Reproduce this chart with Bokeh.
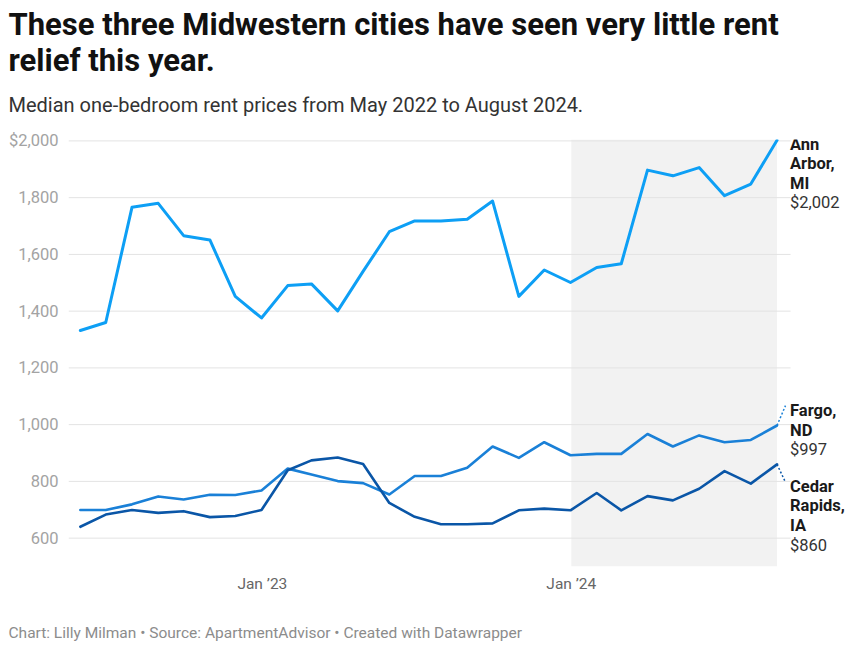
import pandas as pd
from bokeh.plotting import figure
from bokeh.layouts import column
from bokeh.models import Range1d, FixedTicker, Label, BoxAnnotation
from bokeh.embed import file_html
from bokeh.resources import INLINE

# ---------------- data ----------------
months = pd.period_range("2022-05", "2024-08", freq="M").to_timestamp(how="end").normalize()

ann_arbor = [1332, 1360, 1766, 1780, 1666, 1651, 1452, 1376, 1490, 1496, 1401, 1540,
             1680, 1718, 1718, 1724, 1788, 1452, 1545, 1501, 1554, 1567, 1897, 1877,
             1906, 1807, 1848, 2002]
fargo = [699, 699, 719, 747, 736, 753, 752, 768, 845, 824, 801, 794,
         754, 819, 819, 848, 923, 883, 938, 892, 897, 897, 967, 923,
         962, 938, 946, 997]
cedar_rapids = [640, 683, 699, 689, 695, 674, 678, 699, 839, 874, 884, 861,
                724, 675, 649, 649, 652, 698, 704, 698, 759, 698, 748, 733,
                774, 836, 792, 860]

series_names = [["Ann", "Arbor,", "MI"], ["Fargo,", "ND"], ["Cedar", "Rapids,", "IA"]]
series_values = [ann_arbor, fargo, cedar_rapids]
series_colors = ["#0d9ff5", "#1a80d7", "#0a56a7"]

y_tick_values = [600, 800, 1000, 1200, 1400, 1600, 1800, 2000]
y_tick_labels = ["600", "800", "1,000", "1,200", "1,400", "1,600", "1,800", "$2,000"]
x_tick_dates = ["2023-01-01", "2024-01-01"]
x_tick_labels = ["Jan \u201923", "Jan \u201924"]

highlight_start = "2024-01-01"

title_lines = ["These three Midwestern cities have seen very little rent",
               "relief this year."]
subtitle = "Median one-bedroom rent prices from May 2022 to August 2024."
footer = "Chart: Lilly Milman \u2022 Source: ApartmentAdvisor \u2022 Created with Datawrapper"


def ms(d):
    return pd.Timestamp(d).value / 1e6


DAY = 86400000.0
x_ms = [ms(d) for d in months]
FONT = "Roboto"
W = 868
BASE = 0.36  # text baseline correction (fraction of font size)

# ---------------- header ----------------
HEAD_H = 125
head = figure(width=W, height=HEAD_H, output_backend="svg", toolbar_location=None,
              x_range=Range1d(0, W), y_range=Range1d(HEAD_H, 0),
              x_axis_location=None, y_axis_location=None, min_border=0,
              min_border_left=0, min_border_right=0, min_border_top=0,
              min_border_bottom=0)
head.frame_align = False
head.outline_line_color = None
head.grid.visible = False
TFS = 31
for t, by in zip(title_lines, [35.5, 71.5]):
    head.add_layout(Label(x=8, y=by - BASE * TFS, text=t, text_font=FONT,
                          text_font_size=f"{TFS}px", text_font_style="bold",
                          text_color="#111111", text_align="left",
                          text_baseline="alphabetic"))
SFS = 20
head.add_layout(Label(x=8, y=111.5 - BASE * SFS, text=subtitle, text_font=FONT,
                      text_font_size=f"{SFS}px", text_color="#333333",
                      text_align="left", text_baseline="alphabetic"))

# ---------------- main chart ----------------
MAIN_H = 475
LEFT = 68
frame_w = W - LEFT
px_per_day = 0.8465
x_start = ms("2022-05-17")
x_end = x_start + frame_w / px_per_day * DAY
grid_end = ms("2024-09-16")
y_start, y_end = 500, 2005

p = figure(width=W, height=MAIN_H, output_backend="svg", toolbar_location=None,
           x_axis_type="datetime",
           x_range=Range1d(x_start, x_end), y_range=Range1d(y_start, y_end),
           min_border_left=LEFT, min_border_right=0, min_border_top=14,
           min_border_bottom=34)
p.frame_align = False
p.outline_line_color = None
p.background_fill_color = "white"
p.border_fill_color = "white"
p.grid.visible = False

# highlight band
p.add_layout(BoxAnnotation(left=ms(highlight_start), right=x_ms[-1],
                           fill_color="#f2f2f2", fill_alpha=1.0, line_color=None,
                           level="underlay"))

# horizontal gridlines at the y ticks (stop before the end labels)
p.segment(x0=[x_start] * len(y_tick_values), x1=[grid_end] * len(y_tick_values),
          y0=y_tick_values, y1=y_tick_values, line_color="#e3e3e3", line_width=1)

# y axis
ya = p.yaxis[0]
ya.ticker = FixedTicker(ticks=y_tick_values)
ya.major_label_overrides = {v: l for v, l in zip(y_tick_values, y_tick_labels)}
ya.axis_line_color = None
ya.major_tick_line_color = None
ya.minor_tick_line_color = None
ya.major_tick_out = 0
ya.major_tick_in = 0
ya.major_label_standoff = 10
ya.major_label_text_font = FONT
ya.major_label_text_font_size = "16.5px"
ya.major_label_text_color = "#a3a3a3"

# x axis
xa = p.xaxis[0]
xt = [ms(d) for d in x_tick_dates]
xa.ticker = FixedTicker(ticks=xt)
xa.major_label_overrides = {v: l for v, l in zip(xt, x_tick_labels)}
xa.axis_line_color = None
xa.major_tick_line_color = None
xa.minor_tick_line_color = None
xa.major_tick_out = 0
xa.major_tick_in = 0
xa.major_label_standoff = 8
xa.major_label_text_font = FONT
xa.major_label_text_font_size = "15.5px"
xa.major_label_text_color = "#666666"

# lines
widths = [3, 2.6, 2.6]
for vals, col, w in zip(series_values, series_colors, widths):
    p.line(x_ms, vals, line_color=col, line_width=w, line_join="round", line_cap="round")

# dotted connectors from last point to labels for Fargo and Cedar Rapids
conn = {1: 70, 2: -63}
for i, dy in conn.items():
    last = series_values[i][-1]
    p.segment(x0=[x_ms[-1]], y0=[last], x1=[x_ms[-1] + 10 * DAY], y1=[last + dy],
              line_color=series_colors[i], line_width=1.5, line_dash="2 2")

# end labels
LFS = 16.5
first_baseline = [-9.6, 9.0, -27.9]
line_h = 19.6
for i, (names, vals) in enumerate(zip(series_names, series_values)):
    lines = names + [f"${vals[-1]:,}"]
    for j, t in enumerate(lines):
        bold = j < len(names)
        p.add_layout(Label(x=x_ms[-1], y=vals[-1], x_offset=13,
                           y_offset=first_baseline[i] - j * line_h + BASE * LFS,
                           text=t, text_font=FONT, text_font_size=f"{LFS}px",
                           text_font_style="bold" if bold else "normal",
                           text_color="#1a1a1a" if bold else "#333333",
                           text_align="left", text_baseline="alphabetic"))

# ---------------- footer ----------------
FOOT_H = 650 - HEAD_H - MAIN_H
foot = figure(width=W, height=FOOT_H, output_backend="svg", toolbar_location=None,
              x_range=Range1d(0, W), y_range=Range1d(FOOT_H, 0),
              x_axis_location=None, y_axis_location=None, min_border=0,
              min_border_left=0, min_border_right=0, min_border_top=0,
              min_border_bottom=0)
foot.frame_align = False
foot.outline_line_color = None
foot.grid.visible = False
FFS = 15.5
foot.add_layout(Label(x=8, y=38.5 - BASE * FFS, text=footer, text_font=FONT,
                      text_font_size=f"{FFS}px", text_color="#8c8c8c",
                      text_align="left", text_baseline="alphabetic"))

layout = column(head, p, foot, spacing=0)
open("out.html", "w").write(file_html(layout, INLINE))
